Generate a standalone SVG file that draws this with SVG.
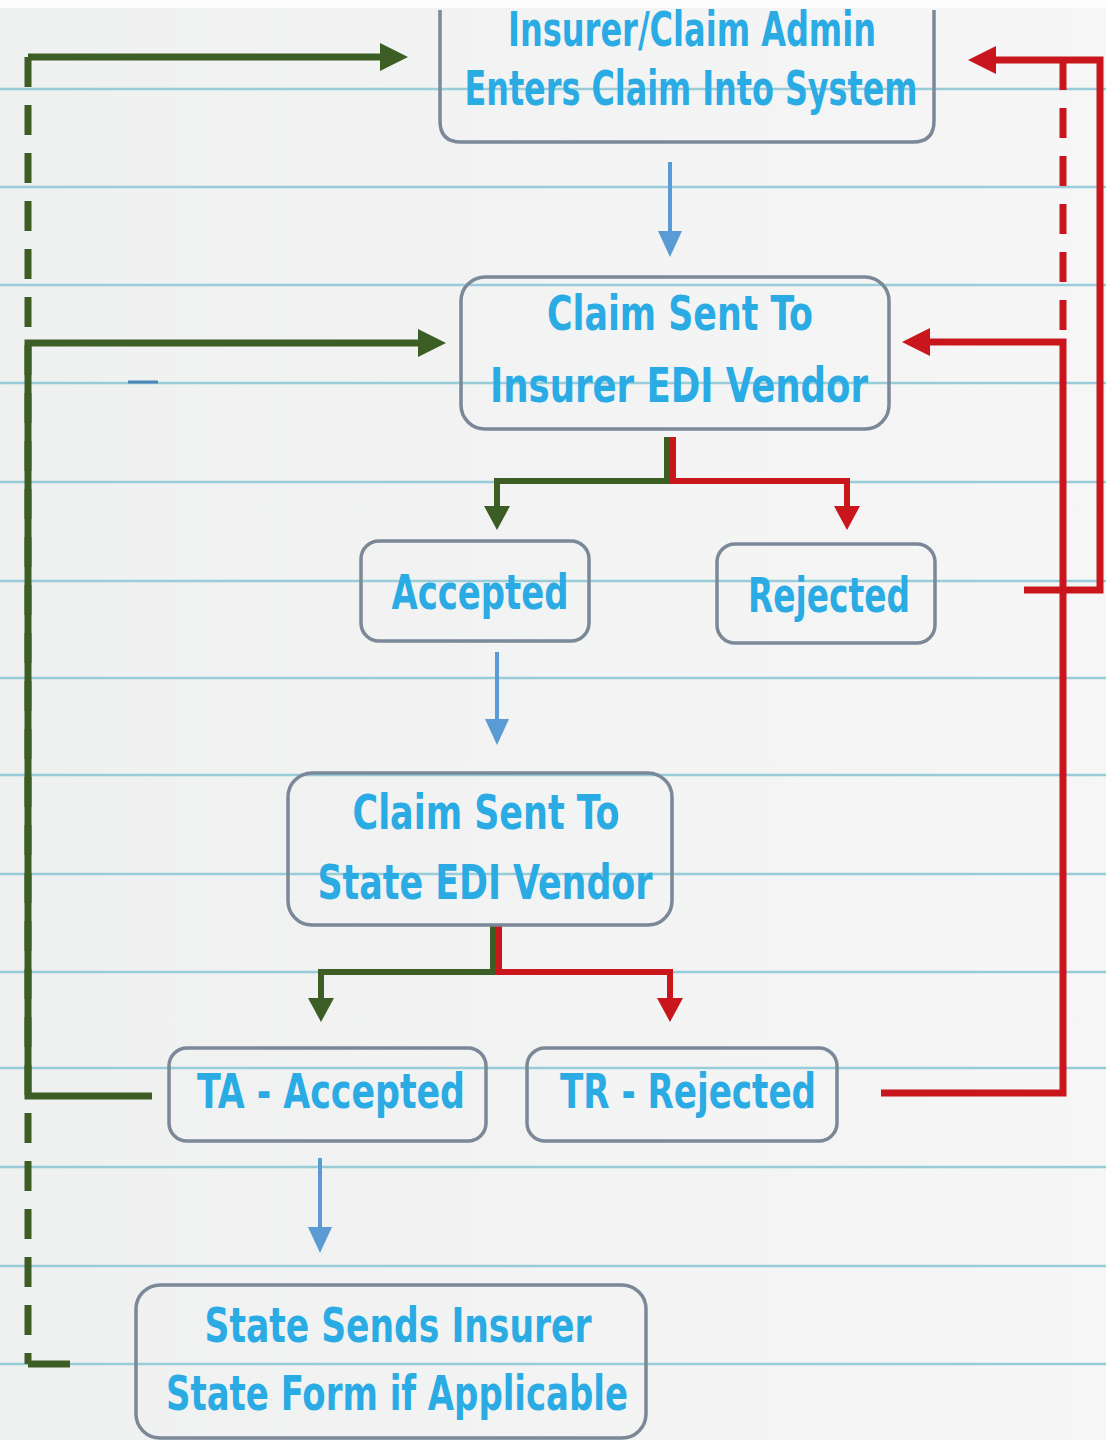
<svg xmlns="http://www.w3.org/2000/svg" width="1106" height="1440" viewBox="0 0 1106 1440">
<defs>
<style>
.bg-line{stroke:#98ccd9;stroke-width:2.5;fill:none}
.box{fill:none;stroke:#7b8898;stroke-width:3.5}
.lbl{font-family:"DejaVu Sans Condensed","Liberation Sans Narrow","Liberation Sans",sans-serif;font-weight:bold;font-size:48px;fill:#2aabe3;text-anchor:middle}
.g{stroke:#3c5d24;stroke-width:7;fill:none}
.r{stroke:#c8161c;stroke-width:7;fill:none}
.gb{stroke:#3c5d24;stroke-width:6;fill:none}
.rb{stroke:#c8161c;stroke-width:6;fill:none}
.b{stroke:#5b9bd5;stroke-width:4;fill:none}
.dash{stroke-dasharray:30 18}
</style>
<marker id="ag" markerUnits="userSpaceOnUse" viewBox="0 -14 28 28" markerWidth="28" markerHeight="28" refX="0" refY="0" orient="auto"><path d="M0,-14 L28,0 L0,14 Z" fill="#3c5d24"/></marker>
<marker id="ar" markerUnits="userSpaceOnUse" viewBox="0 -14 28 28" markerWidth="28" markerHeight="28" refX="0" refY="0" orient="auto"><path d="M0,-14 L28,0 L0,14 Z" fill="#c8161c"/></marker>
<marker id="agd" markerUnits="userSpaceOnUse" viewBox="0 -13 24 26" markerWidth="24" markerHeight="26" refX="0" refY="0" orient="auto"><path d="M0,-13 L24,0 L0,13 Z" fill="#3c5d24"/></marker>
<marker id="ard" markerUnits="userSpaceOnUse" viewBox="0 -13 24 26" markerWidth="24" markerHeight="26" refX="0" refY="0" orient="auto"><path d="M0,-13 L24,0 L0,13 Z" fill="#c8161c"/></marker>
<marker id="ab" markerUnits="userSpaceOnUse" viewBox="0 -12 26 24" markerWidth="26" markerHeight="24" refX="0" refY="0" orient="auto"><path d="M0,-12 L26,0 L0,12 Z" fill="#5b9bd5"/></marker>
<linearGradient id="paper" x1="0" y1="0" x2="1" y2="0">
<stop offset="0" stop-color="#eff0f0"/>
<stop offset="1" stop-color="#f6f6f6"/>
</linearGradient>
</defs>
<g id="background">
<rect x="0" y="0" width="1106" height="1440" fill="url(#paper)"/>
<rect x="0" y="0" width="1106" height="8" fill="#fdfdfd"/>
<path class="bg-line" d="M0,89 H1106 M0,187 H1106 M0,285 H1106 M0,383 H1106 M0,482 H1106 M0,581 H1106 M0,678 H1106 M0,775 H1106 M0,874 H1106 M0,972 H1106 M0,1068 H1106 M0,1167 H1106 M0,1266 H1106 M0,1364 H1106"/>
<path d="M128,382 H158" stroke="#4a86b8" stroke-width="3"/>
</g>
<g id="connectors">
<path class="b" d="M670,162 V231" marker-end="url(#ab)"/>
<path class="b" d="M497,652 V719" marker-end="url(#ab)"/>
<path class="b" d="M320,1158 V1227" marker-end="url(#ab)"/>
<path class="gb" d="M667,437 V481 H497 V506" marker-end="url(#agd)"/>
<path class="rb" d="M673,437 V481 H847 V506" marker-end="url(#ard)"/>
<path class="gb" d="M493,925 V972 H321 V998" marker-end="url(#agd)"/>
<path class="rb" d="M499,925 V972 H670 V998" marker-end="url(#ard)"/>
<path class="g" d="M152,1096 H28 V343 H418" marker-end="url(#ag)"/>
<path class="g dash" d="M28,57 V1364"/>
<path class="g" d="M70,1364 H28"/>
<path class="g" d="M28,57 H380" marker-end="url(#ag)"/>
<path class="r" d="M881,1093 H1063 V342 H930" marker-end="url(#ar)"/>
<path class="r dash" d="M1063,60 V342"/>
<path class="r" d="M1024,590 H1100 V60 H996" marker-end="url(#ar)"/>
</g>
<g id="node-enter">
<path class="box" d="M440,10 V121 Q440,142 461,142 H913 Q934,142 934,121 V10"/>
<text class="lbl" x="692" y="46" font-size="46" textLength="368" lengthAdjust="spacingAndGlyphs">Insurer/Claim Admin</text>
<text class="lbl" x="691" y="105" textLength="453" lengthAdjust="spacingAndGlyphs">Enters Claim Into System</text>
</g>
<g id="node-insurer-edi">
<rect class="box" x="461" y="277" width="428" height="152" rx="24"/>
<text class="lbl" x="680" y="330" textLength="266" lengthAdjust="spacingAndGlyphs">Claim Sent To</text>
<text class="lbl" x="679" y="402" textLength="378" lengthAdjust="spacingAndGlyphs">Insurer EDI Vendor</text>
</g>
<g id="node-accepted">
<rect class="box" x="361" y="541" width="228" height="100" rx="18"/>
<text class="lbl" x="480" y="609" textLength="177" lengthAdjust="spacingAndGlyphs">Accepted</text>
</g>
<g id="node-rejected">
<rect class="box" x="717" y="544" width="218" height="99" rx="18"/>
<text class="lbl" x="829" y="612" textLength="162" lengthAdjust="spacingAndGlyphs">Rejected</text>
</g>
<g id="node-state-edi">
<rect class="box" x="288" y="773" width="384" height="152" rx="24"/>
<text class="lbl" x="486" y="829" textLength="267" lengthAdjust="spacingAndGlyphs">Claim Sent To</text>
<text class="lbl" x="485" y="899" textLength="335" lengthAdjust="spacingAndGlyphs">State EDI Vendor</text>
</g>
<g id="node-ta">
<rect class="box" x="169" y="1048" width="317" height="93" rx="18"/>
<text class="lbl" x="331" y="1108" textLength="268" lengthAdjust="spacingAndGlyphs">TA - Accepted</text>
</g>
<g id="node-tr">
<rect class="box" x="527" y="1048" width="310" height="93" rx="18"/>
<text class="lbl" x="688" y="1108" textLength="256" lengthAdjust="spacingAndGlyphs">TR - Rejected</text>
</g>
<g id="node-state-form">
<rect class="box" x="136" y="1285" width="510" height="153" rx="24"/>
<text class="lbl" x="398" y="1342" textLength="387" lengthAdjust="spacingAndGlyphs">State Sends Insurer</text>
<text class="lbl" x="397" y="1410" textLength="462" lengthAdjust="spacingAndGlyphs">State Form if Applicable</text>
</g>
</svg>
